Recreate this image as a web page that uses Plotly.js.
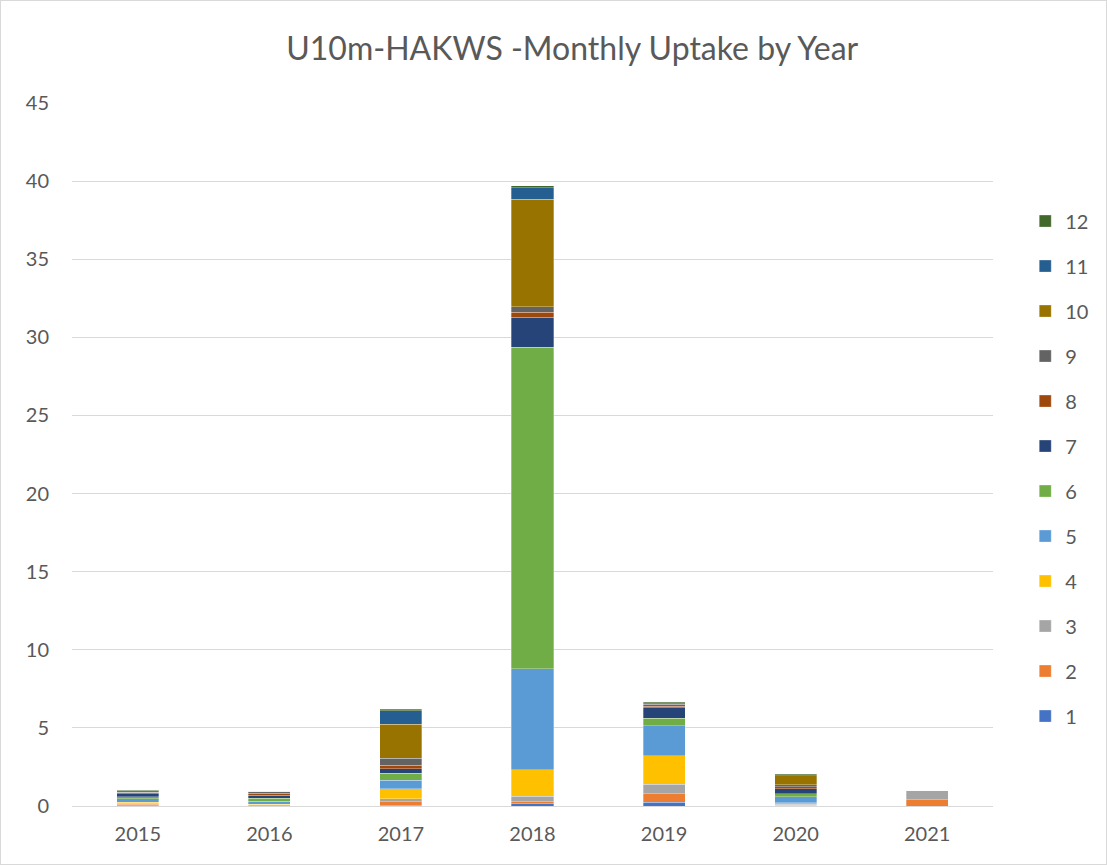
<!DOCTYPE html>
<html>
<head>
<meta charset="utf-8">
<script src="https://cdn.plot.ly/plotly-3.0.1.min.js"></script>
<style>
html,body{margin:0;padding:0;background:#fff;}
#chart{width:1105px;height:863px;border:1px solid #D9D9D9;}
</style>
</head>
<body>
<div id="chart"></div>
<script>
const years = ['2015','2016','2017','2018','2019','2020','2021'];
const monthNames = ['1','2','3','4','5','6','7','8','9','10','11','12'];
const colors = ['#4472C4','#ED7D31','#A5A5A5','#FFC000','#5B9BD5','#70AD47','#264478','#9E480E','#636363','#997300','#255E91','#43682B'];
// values per month (rows) for each year (columns)
const m1  = [0.05, 0.03, 0.05, 0.14, 0.25, 0.06, 0.00];
const m2  = [0.06, 0.00, 0.23, 0.12, 0.55, 0.00, 0.40];
const m3  = [0.06, 0.06, 0.17, 0.37, 0.60, 0.06, 0.58];
const m4  = [0.06, 0.03, 0.64, 1.68, 1.81, 0.10, 0.04];
const m5  = [0.23, 0.19, 0.55, 6.46, 1.94, 0.38, 0.00];
const m6  = [0.13, 0.18, 0.47, 20.6, 0.47, 0.17, 0.00];
const m7  = [0.20, 0.20, 0.28, 1.92, 0.68, 0.32, 0.00];
const m8  = [0.06, 0.12, 0.23, 0.30, 0.10, 0.15, 0.00];
const m9  = [0.04, 0.12, 0.43, 0.38, 0.10, 0.13, 0.00];
const m10 = [0.08, 0.00, 2.18, 6.87, 0.05, 0.58, 0.00];
const m11 = [0.00, 0.00, 0.87, 0.72, 0.05, 0.06, 0.00];
const m12 = [0.05, 0.03, 0.08, 0.13, 0.06, 0.06, 0.00];
const months = [m1,m2,m3,m4,m5,m6,m7,m8,m9,m10,m11,m12];

const traces = months.map((vals,i)=>({
  type:'bar',
  name: monthNames[i],
  x: years,
  y: vals,
  legendgroup: 'g'+i,
  legendrank: 1000 - i*10,
  marker:{color:colors[i], line:{color:'rgba(255,255,255,0.5)', width:0.6}},
  hovertemplate:'%{x}: %{y}<extra>'+monthNames[i]+'</extra>'
}));

const font = 'Lato, "Open Sans", "Liberation Sans", sans-serif';
const layout = {
  width:1105, height:863,
  barmode:'stack',
  bargap:0.68,
  paper_bgcolor:'#fff', plot_bgcolor:'#fff',
  margin:{l:71, r:106, t:102, b:58},
  title:{text:'U10m-HAKWS -Monthly Uptake by Year', x:0.517, xanchor:'center', y:0.945, yanchor:'middle',
         font:{family:font, size:32, color:'#595959'}},
  xaxis:{type:'category', showgrid:false, showline:true, linecolor:'#D9D9D9', linewidth:1,
         tickfont:{family:font, size:20, color:'#595959'}, ticks:'', ticklabelstandoff:10, fixedrange:true},
  yaxis:{range:[0,45], dtick:5, showgrid:true, gridcolor:'#D9D9D9', gridwidth:1, zeroline:false, showline:false,
         tickfont:{family:font, size:20, color:'#595959'}, ticks:'', ticklen:0, ticklabelstandoff:22, fixedrange:true},
  legend:{x:1.035, xanchor:'left', y:0.48, yanchor:'middle', traceorder:'grouped', tracegroupgap:16,
          font:{family:font, size:20, color:'#595959'}, itemwidth:30},
  showlegend:true
};
Plotly.newPlot('chart', traces, layout, {displayModeBar:false, staticPlot:true});
</script>
</body>
</html>
